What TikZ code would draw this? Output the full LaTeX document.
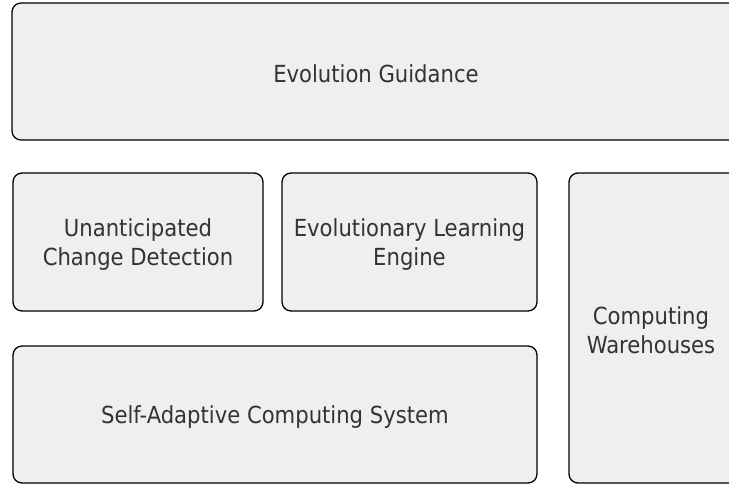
\documentclass[tikz,border=0pt]{standalone}
\usepackage{fontspec}
\setmainfont{DejaVu Sans Condensed}
\definecolor{boxfill}{HTML}{EFEFEF}
\definecolor{txt}{HTML}{333333}
\begin{document}
\begin{tikzpicture}[x=1bp,y=-1bp,
  blk/.style={draw=black,line width=1.3bp,fill=boxfill,rounded corners=9bp,inner sep=0pt},
  lbl/.style={text=txt,align=center,inner sep=0pt,
    font=\fontsize{23.6}{29.5}\selectfont}]
\useasboundingbox (0,0) rectangle (729,484);
\clip (0,0) rectangle (729,484);
\fill[white] (0,0) rectangle (729,484);
\node[blk,minimum width=728bp,minimum height=137bp] (eg) at (376,71.5) {};
\node[blk,minimum width=250bp,minimum height=138bp] (ucd) at (138,242) {};
\node[blk,minimum width=255bp,minimum height=138bp] (ele) at (409.5,242) {};
\node[blk,minimum width=524bp,minimum height=137bp] (sacs) at (275,414.5) {};
\node[blk,minimum width=170bp,minimum height=310bp] (cw) at (654,328) {};
\node[lbl] (egt) at ([yshift=-2.5bp]eg.center) {Evolution Guidance};
\node[lbl] (ucdt) at ([yshift=-2.5bp]ucd.center) {Unanticipated\\Change Detection};
\node[lbl] (elet) at ([yshift=-2.5bp]ele.center) {Evolutionary Learning\\Engine};
\node[lbl] (sacst) at ([yshift=-2.5bp]sacs.center) {Self-Adaptive Computing System};
\node[lbl] (cwt) at ([xshift=-3bp,yshift=-2.5bp]cw.center) {Computing\\Warehouses};
\end{tikzpicture}
\end{document}
